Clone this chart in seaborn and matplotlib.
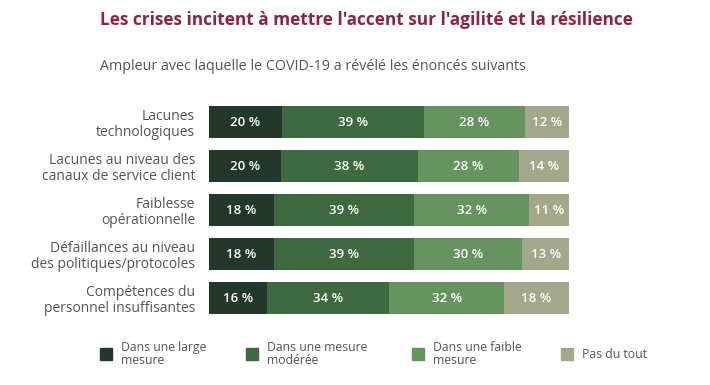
import numpy as np
import pandas as pd
import matplotlib
matplotlib.use("Agg")
import matplotlib.pyplot as plt
import seaborn as sns

sns.set_theme(style="white")
plt.rcParams['font.family'] = ['Open Sans', 'DejaVu Sans']

# data
categories = [
    "Lacunes\ntechnologiques",
    "Lacunes au niveau des\ncanaux de service client",
    "Faiblesse\nopérationnelle",
    "Défaillances au niveau\ndes politiques/protocoles",
    "Compétences du\npersonnel insuffisantes",
]
series_names = ["Dans une large\nmesure", "Dans une mesure\nmodérée",
                "Dans une faible\nmesure", "Pas du tout"]
large = [20, 20, 18, 18, 16]
moderee = [39, 38, 39, 39, 34]
faible = [28, 28, 32, 30, 32]
pas_du_tout = [12, 14, 11, 13, 18]

colors = ["#22382b", "#3f6a3f", "#66935f", "#a5a78a"]

df = pd.DataFrame({"cat": categories,
                   series_names[0]: large,
                   series_names[1]: moderee,
                   series_names[2]: faible,
                   series_names[3]: pas_du_tout})
vals = df[series_names].to_numpy(dtype=float)
# bars fill the full width in the original
widths = vals / vals.sum(axis=1, keepdims=True) * 100

fig = plt.figure(figsize=(7.1, 3.85), dpi=100)
ax = fig.add_axes([209 / 710, 1 - 320 / 385, 360 / 710, 220 / 385])

left = np.zeros(len(categories))
for i, name in enumerate(series_names):
    d = pd.DataFrame({"cat": categories, "w": widths[:, i], "left": left})
    bars = ax.barh(d["cat"], d["w"], left=d["left"], height=0.74,
                   color=colors[i], label=name, edgecolor="none")
    for j, b in enumerate(bars):
        ax.text(b.get_x() + b.get_width() / 2, b.get_y() + b.get_height() / 2,
                f"{int(vals[j, i])} %", ha="center", va="center",
                color="white", fontsize=9.5, fontweight="semibold")
    left = left + widths[:, i]

ax.set_xlim(0, 100)
ax.set_ylim(len(categories) - 0.5, -0.5)
ax.set_xticks([])
ax.tick_params(axis="y", length=0, pad=10, labelsize=10, labelcolor="#555555")
for lbl in ax.get_yticklabels():
    lbl.set_ha("right")
    lbl.set_linespacing(1.05)
sns.despine(ax=ax, left=True, bottom=True)

fig.text(100 / 710, 1 - 20 / 385, "Les crises incitent à mettre l'accent sur l'agilité et la résilience",
         fontsize=12.4, fontweight="bold", color="#8b2446", va="center")
fig.text(100 / 710, 1 - 67 / 385, "Ampleur avec laquelle le COVID-19 a révélé les énoncés suivants",
         fontsize=10.3, color="#555555", va="center")

# legend
leg_x = [100, 246, 412, 561]
for x, name, c in zip(leg_x, series_names, colors):
    fig.patches.append(plt.Rectangle((x / 710, 1 - 360 / 385), 12 / 710, 12 / 385,
                                     transform=fig.transFigure, color=c))
    fig.text((x + 21) / 710, 1 - 354 / 385, name, fontsize=8.8, color="#555555",
             va="center", linespacing=1.0)

fig.savefig("out.png", dpi=100)
